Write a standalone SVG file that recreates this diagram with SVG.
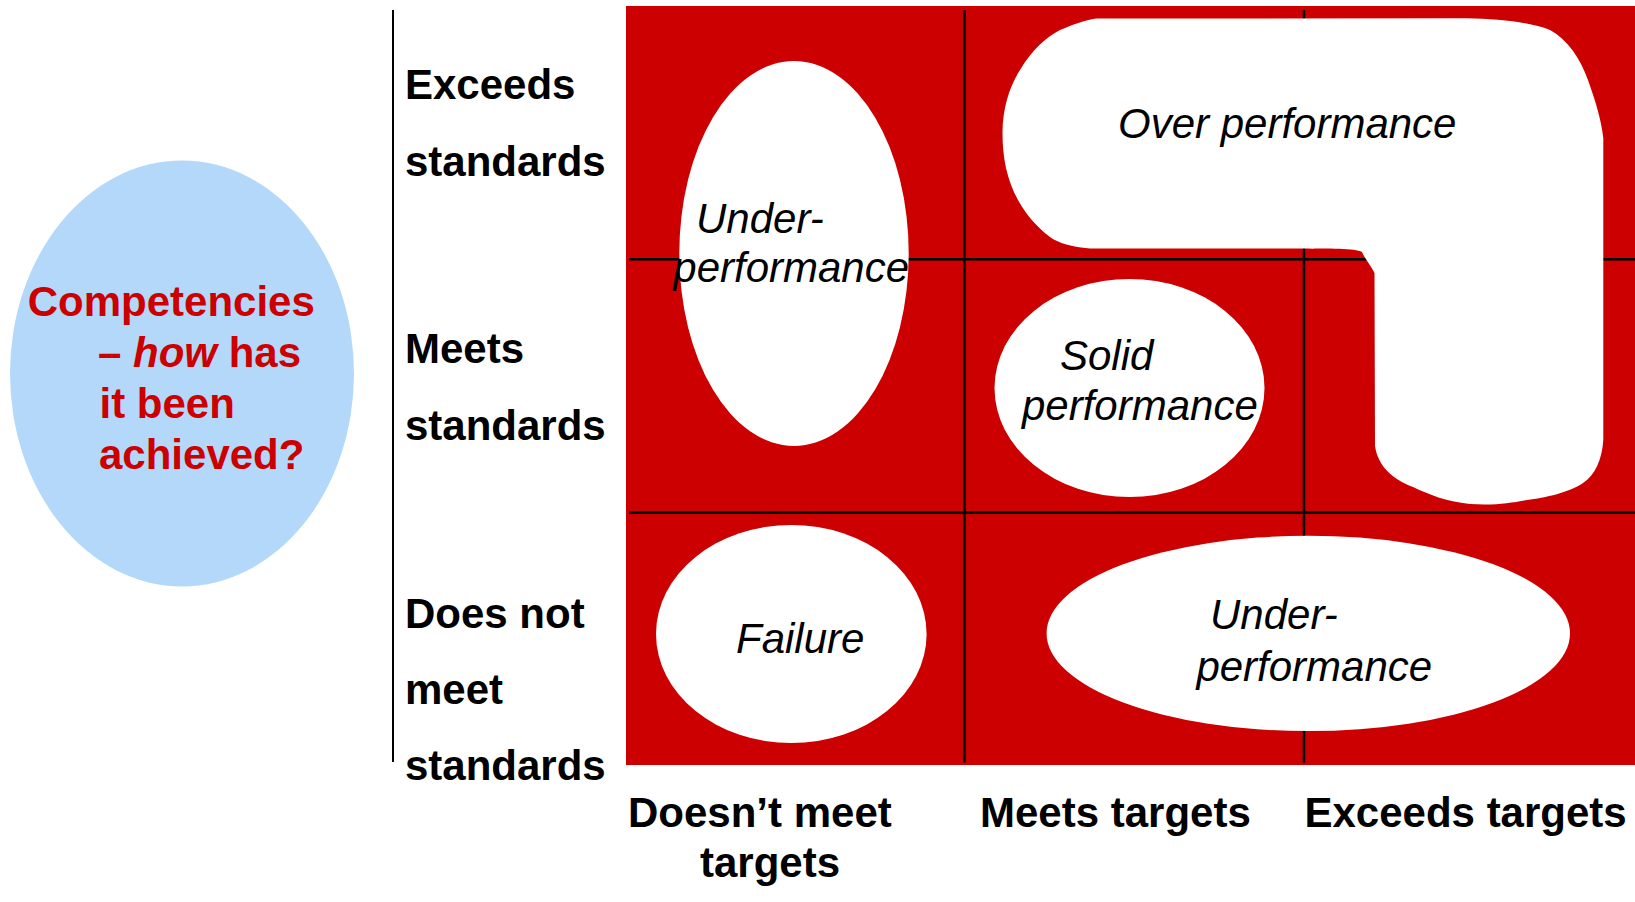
<svg xmlns="http://www.w3.org/2000/svg" width="1635" height="902" viewBox="0 0 1635 902">
  <style>
    text { font-family: "Liberation Sans", Arial, Helvetica, sans-serif; font-size: 42px; }
    .axis { font-weight: bold; fill: #000000; }
    .comp { font-weight: bold; fill: #CC0000; }
    .zone { font-style: italic; fill: #000000; }
    .blob { fill: #FFFFFF; stroke: none; }
    .grid line { stroke: #000000; stroke-width: 2.5; }
  </style>

  <!-- competencies bubble -->
  <g id="competencies">
    <ellipse cx="182" cy="373.5" rx="172" ry="213" fill="#B3D8FA"/>
    <text class="comp" x="27.7" y="315.5">Competencies</text>
    <text class="comp" x="98" y="366.5">– <tspan font-style="italic">how</tspan> has</text>
    <text class="comp" x="99.5" y="418">it been</text>
    <text class="comp" x="99" y="468.5">achieved?</text>
  </g>

  <!-- vertical axis rule -->
  <line x1="393" y1="10" x2="393" y2="762" stroke="#000000" stroke-width="2"/>

  <!-- row labels -->
  <g id="row-exceeds">
    <text class="axis" x="405" y="98.5">Exceeds</text>
    <text class="axis" x="405" y="176">standards</text>
  </g>
  <g id="row-meets">
    <text class="axis" x="405" y="363">Meets</text>
    <text class="axis" x="405" y="440">standards</text>
  </g>
  <g id="row-doesnot">
    <text class="axis" x="405" y="628">Does not</text>
    <text class="axis" x="405" y="704">meet</text>
    <text class="axis" x="405" y="779.5">standards</text>
  </g>

  <!-- column labels -->
  <g id="col-doesnt">
    <text class="axis" x="628" y="826.5">Doesn’t meet</text>
    <text class="axis" x="700" y="876.5">targets</text>
  </g>
  <g id="col-meets">
    <text class="axis" x="980" y="826.5">Meets targets</text>
  </g>
  <g id="col-exceeds">
    <text class="axis" x="1304.5" y="826.5">Exceeds targets</text>
  </g>

  <!-- matrix background -->
  <rect id="matrix" x="626" y="6" width="1009" height="759" fill="#CC0000"/>

  <!-- grid rules -->
  <g id="connectors" class="grid">
    <line x1="629" y1="259.3" x2="1635" y2="259.3"/>
    <line x1="629" y1="512.5" x2="1635" y2="512.5"/>
    <line x1="964.4" y1="10" x2="964.4" y2="762.5"/>
    <line x1="1304" y1="10" x2="1304" y2="762.5"/>
  </g>

  <!-- zones -->
  <g id="under-performance-top">
    <ellipse class="blob" cx="794" cy="253.5" rx="114.7" ry="192.5"/>
    <text class="zone" x="696" y="232.5">Under-</text>
    <text class="zone" x="673.3" y="281.5">performance</text>
  </g>

  <g id="over-performance">
    <path class="blob" d="M 1096 18.5 L 1466 18.3 C 1500 19 1530 22 1550 30 C 1568 40 1580 58 1588 80 C 1595 100 1601 118 1603.3 138 L 1603.3 440 C 1602 460 1595 475 1583 483 C 1570 492 1545 498 1527 500 C 1510 503 1495 505.5 1470 504 C 1445 501 1430 495 1413 487 C 1392 479 1378 466 1375 446 L 1374.5 273 C 1370 264 1365 259 1362 252 C 1355 248 1330 249 1300 248.5 L 1090 248.5 C 1072 247 1058 243 1050 237 C 1038 228 1026 215 1018 200 C 1007 180 1002.5 158 1002.5 133 C 1002.5 108 1010 85 1020 70 C 1032 50 1045 38 1060 30 C 1072 25 1085 20 1096 18.5 Z"/>
    <text class="zone" x="1118" y="138">Over performance</text>
  </g>

  <g id="solid-performance">
    <ellipse class="blob" cx="1129.5" cy="388" rx="135" ry="109"/>
    <text class="zone" x="1060" y="370">Solid</text>
    <text class="zone" x="1022" y="420">performance</text>
  </g>

  <g id="failure">
    <ellipse class="blob" cx="791.3" cy="634" rx="135.3" ry="109"/>
    <text class="zone" x="736" y="652.5">Failure</text>
  </g>

  <g id="under-performance-bottom">
    <ellipse class="blob" cx="1308.3" cy="633.4" rx="261.7" ry="97.7"/>
    <text class="zone" x="1210" y="629">Under-</text>
    <text class="zone" x="1196.4" y="681">performance</text>
  </g>
</svg>
